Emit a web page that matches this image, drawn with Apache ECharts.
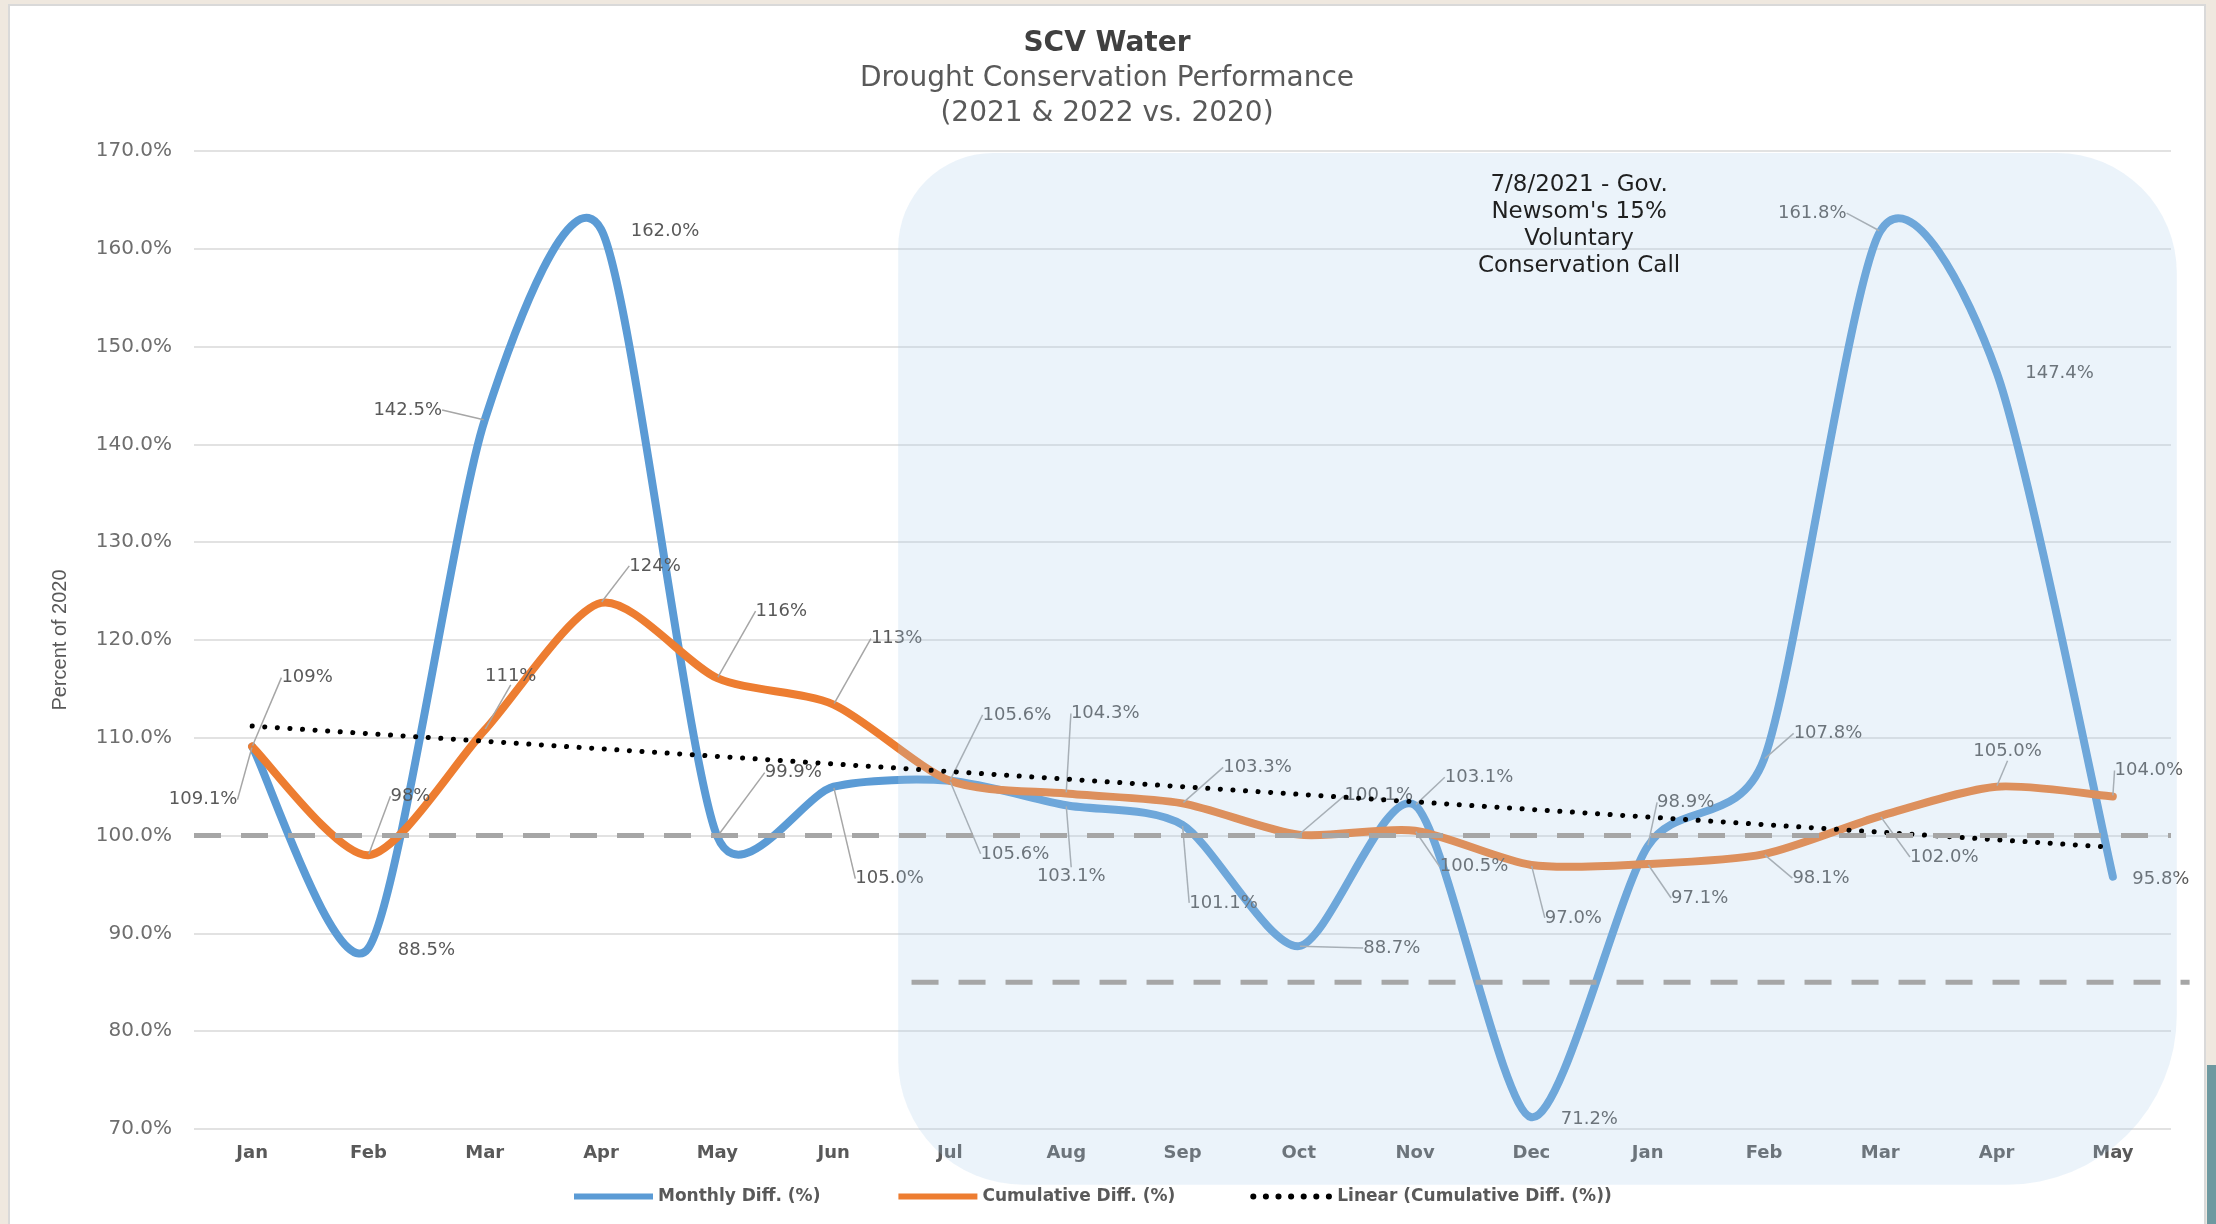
<!DOCTYPE html>
<html>
<head>
<meta charset="utf-8">
<title>SCV Water - Drought Conservation Performance</title>
<script src="https://cdn.jsdelivr.net/npm/echarts@6/dist/echarts.min.js"></script>
<style>
  html, body { margin: 0; padding: 0; width: 2216px; height: 1224px; overflow: hidden; background: #EFE8DF; }
  #frame { position: absolute; left: 8px; top: 4px; width: 2198px; height: 1220px; background: #D9D9D9; }
  #chart { position: absolute; left: 10px; top: 6px; width: 2194px; height: 1218px; background: #fff; }
  #strip { position: absolute; left: 2207px; top: 1065px; width: 9px; height: 159px; background: #6E99A0; }
</style>
</head>
<body>
<div id="frame"></div>
<div id="chart"></div>
<div id="strip"></div>
<script>
// months Jan 2021 .. May 2022
const months = ['Jan', 'Feb', 'Mar', 'Apr', 'May', 'Jun', 'Jul', 'Aug', 'Sep', 'Oct', 'Nov', 'Dec',
  'Jan', 'Feb', 'Mar', 'Apr', 'May']

// percent of 2020 usage
const monthlyDiff = [109.1, 88.5, 142.5, 162.0, 99.9, 105.0, 105.6, 103.1, 101.1, 88.7, 103.1, 71.2,
  98.9, 107.8, 161.8, 147.4, 95.8]
const cumulativeDiff = [109.1, 98.0, 110.8, 123.8, 116.1, 113.4, 105.6, 104.3, 103.3, 100.1, 100.5, 97.0,
  97.1, 98.1, 102.0, 105.0, 104.0]
// trend line end points as drawn
const cumulativeTrend = [111.2, null, null, null, null, null, null, null, null, null, null, null,
  null, null, null, null, 98.8]
// first months of cumulative labels are shown without decimals
const cumulativeDecimals = [0, 0, 0, 0, 0, 0, 1, 1, 1, 1, 1, 1, 1, 1, 1, 1, 1]

const baseline = 100
const targetLevel = 85

const yMin = 70
const yMax = 170
const yStep = 10

// label placement (px from the point to the label centre) and whether a leader line is drawn
const monthlyLabelOffsets = [[-49, 53], [58, 2], [-77, -10], [64, 2], [76, -64], [56, 92], [65, 73], [5, 71],
  [41, 78], [93, 2], [64, -28], [58, 2], [38, -44], [64, -26], [-68, -18], [63, 1], [48, 3]]
const monthlyLeaders = [1, 0, 1, 0, 1, 1, 1, 1, 1, 1, 1, 0, 1, 1, 1, 0, 0]
const cumulativeLabelOffsets = [[55, -69], [42, -59], [26, -54], [54, -37], [64, -67], [63, -66], [67, -66],
  [39, -80], [75, -36], [80, -39], [59, 36], [42, 53], [52, 34], [57, 24], [64, 41], [11, -35], [36, -26]]

const FONT = 'DejaVu Sans'
const BLUE = '#5B9BD5'
const ORANGE = '#ED7D31'
const GREY_LINE = '#A6A6A6'
const TENSION = 0.13

const chart = echarts.init(document.getElementById('chart'))

function labelStyle () {
  return {
    show: true,
    position: 'inside',
    fontFamily: FONT,
    fontSize: 18,
    color: '#595959'
  }
}

// excel-like smoothing: cubic segments through every point, handles capped at half the segment
function handle (prev, next, segLen) {
  let hx = (next[0] - prev[0]) * TENSION
  let hy = (next[1] - prev[1]) * TENSION
  const len = Math.hypot(hx, hy)
  if (len > segLen / 2) {
    hx *= segLen / 2 / len
    hy *= segLen / 2 / len
  }
  return [hx, hy]
}

function smoothPath (pts) {
  let d = 'M' + pts[0][0] + ',' + pts[0][1]
  for (let i = 0; i < pts.length - 1; i++) {
    const p0 = pts[i - 1] || pts[i]
    const p1 = pts[i]
    const p2 = pts[i + 1]
    const p3 = pts[i + 2] || pts[i + 1]
    const seg = Math.hypot(p2[0] - p1[0], p2[1] - p1[1])
    const h1 = handle(p0, p2, seg)
    const h2 = handle(p1, p3, seg)
    const c1 = [p1[0] + h1[0], p1[1] + h1[1]]
    const c2 = [p2[0] - h2[0], p2[1] - h2[1]]
    d += 'C' + c1.join(',') + ' ' + c2.join(',') + ' ' + p2.join(',')
  }
  return d
}

function curveSeries (values, color) {
  return {
    type: 'custom',
    z: 2,
    silent: true,
    clip: false,
    data: values.map((v, i) => [i, v]),
    renderItem: (params, api) => {
      if (params.dataIndex !== 0) return null
      const pts = values.map((v, i) => api.coord([i, v]))
      return {
        type: 'path',
        shape: { pathData: smoothPath(pts) },
        style: { fill: 'none', stroke: color, lineWidth: 8, lineJoin: 'round', lineCap: 'round' }
      }
    }
  }
}

const option = {
  animation: false,
  title: {
    text: 'SCV Water',
    subtext: 'Drought Conservation Performance\n(2021 & 2022 vs. 2020)',
    left: 'center',
    top: 16,
    itemGap: 0,
    textStyle: {
      fontFamily: FONT,
      fontSize: 28,
      fontWeight: 'bold',
      color: '#404040',
      lineHeight: 34
    },
    subtextStyle: {
      fontFamily: FONT,
      fontSize: 28,
      color: '#595959',
      lineHeight: 35
    }
  },
  legend: {
    left: 556,
    top: 1177,
    itemWidth: 79,
    itemHeight: 20,
    itemGap: 75,
    itemStyle: { opacity: 0 },
    lineStyle: { width: 6, opacity: 1 },
    textStyle: {
      fontFamily: FONT,
      fontSize: 17,
      fontWeight: 'bold',
      color: '#595959'
    },
    data: ['Monthly Diff. (%)', 'Cumulative Diff. (%)', 'Linear (Cumulative Diff. (%))']
  },
  grid: {
    left: 184,
    right: 33,
    top: 145,
    bottom: 95
  },
  xAxis: {
    type: 'category',
    data: months,
    boundaryGap: true,
    axisLine: { show: false },
    axisTick: { show: false },
    axisLabel: {
      interval: 0,
      margin: 15,
      fontFamily: FONT,
      fontSize: 18,
      fontWeight: 'bold',
      color: '#595959'
    }
  },
  yAxis: {
    type: 'value',
    min: yMin,
    max: yMax,
    interval: yStep,
    name: 'Percent of 2020',
    nameLocation: 'middle',
    nameGap: 124,
    nameTextStyle: {
      fontFamily: 'Liberation Sans',
      fontSize: 20,
      color: '#595959'
    },
    axisLine: { show: false },
    axisTick: { show: false },
    axisLabel: {
      margin: 22,
      fontFamily: FONT,
      fontSize: 20,
      color: '#6E6E6E',
      formatter: v => v.toFixed(1) + '%'
    },
    splitLine: {
      lineStyle: { color: '#D9D9D9', width: 1.5 }
    }
  },
  series: [
    curveSeries(monthlyDiff, BLUE),
    curveSeries(cumulativeDiff, ORANGE),
    {
      // carries the points, labels and legend entry; the curve itself is drawn above
      name: 'Monthly Diff. (%)',
      type: 'line',
      z: 2,
      symbol: 'circle',
      symbolSize: 2,
      silent: true,
      itemStyle: { color: BLUE },
      lineStyle: { color: BLUE, width: 0 },
      label: Object.assign(labelStyle(), {
        formatter: p => p.value.toFixed(1) + '%'
      }),
      labelLine: { show: true, lineStyle: { color: GREY_LINE, width: 1.5 } },
      labelLayout: p => ({ dx: monthlyLabelOffsets[p.dataIndex][0], dy: monthlyLabelOffsets[p.dataIndex][1] }),
      data: monthlyDiff.map((v, i) => ({ value: v, labelLine: { show: !!monthlyLeaders[i] } }))
    },
    {
      name: 'Cumulative Diff. (%)',
      type: 'line',
      z: 2,
      symbol: 'circle',
      symbolSize: 2,
      silent: true,
      itemStyle: { color: ORANGE },
      lineStyle: { color: ORANGE, width: 0 },
      label: Object.assign(labelStyle(), {
        formatter: p => p.value.toFixed(cumulativeDecimals[p.dataIndex]) + '%'
      }),
      labelLine: { show: true, lineStyle: { color: GREY_LINE, width: 1.5 } },
      labelLayout: p => ({ dx: cumulativeLabelOffsets[p.dataIndex][0], dy: cumulativeLabelOffsets[p.dataIndex][1] }),
      data: cumulativeDiff
    },
    {
      name: 'Linear (Cumulative Diff. (%))',
      type: 'line',
      z: 4,
      symbol: 'none',
      connectNulls: true,
      silent: true,
      itemStyle: { color: '#000' },
      lineStyle: { color: '#000', width: 5, type: [0.1, 12.5], cap: 'round' },
      markLine: {
        silent: true,
        symbol: ['none', 'none'],
        label: { show: false },
        lineStyle: { color: GREY_LINE, width: 5, type: [27, 20] },
        data: [{ yAxis: baseline }]
      },
      data: cumulativeTrend
    }
  ]
}

chart.setOption(option)

// shaded conservation-call period, the 85% target line and the note, placed from the axes
function placeShapes () {
  const p0 = chart.convertToPixel({ gridIndex: 0 }, [0, yMax])
  const p1 = chart.convertToPixel({ gridIndex: 0 }, [1, yMax])
  const step = p1[0] - p0[0]
  const xAt = i => p0[0] + step * i
  const yAt = v => chart.convertToPixel({ gridIndex: 0 }, [0, v])[1]

  const shadeLeft = xAt(5.555)
  const shadeRight = xAt(16.55)
  const shadeTop = yAt(169.8)
  const shadeBottom = yAt(64.3)

  chart.setOption({
    graphic: [
      {
        id: 'shade',
        type: 'rect',
        z: 3,
        silent: true,
        shape: {
          x: shadeLeft,
          y: shadeTop,
          width: shadeRight - shadeLeft,
          height: shadeBottom - shadeTop,
          r: [95, 120, 170, 125]
        },
        style: { fill: 'rgba(173,206,235,0.24)' }
      },
      {
        id: 'target',
        type: 'line',
        z: 5,
        silent: true,
        shape: { x1: xAt(5.67), y1: yAt(targetLevel), x2: xAt(16.66), y2: yAt(targetLevel) },
        style: { stroke: GREY_LINE, lineWidth: 5, lineDash: [27, 20] }
      },
      {
        id: 'note',
        type: 'text',
        z: 6,
        silent: true,
        x: xAt(11.41),
        y: yAt(167.9),
        style: {
          text: "7/8/2021 - Gov.\nNewsom's 15%\nVoluntary\nConservation Call",
          fontFamily: FONT,
          fontSize: 23,
          lineHeight: 27,
          fill: '#1F1F1F',
          align: 'center',
          textAlign: 'center',
          verticalAlign: 'top',
          textVerticalAlign: 'top'
        }
      }
    ]
  })
}

placeShapes()
</script>
</body>
</html>
